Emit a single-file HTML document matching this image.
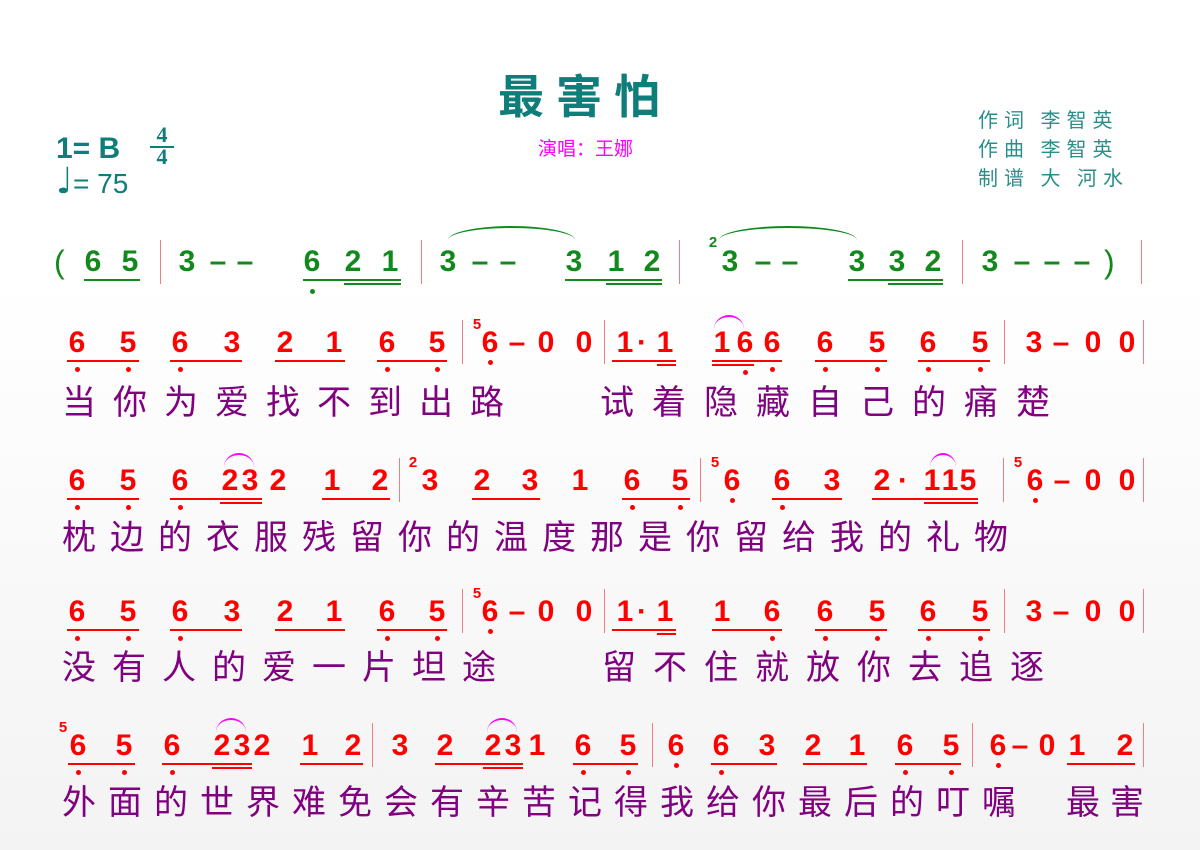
<!DOCTYPE html>
<html><head><meta charset="utf-8"><style>
body{margin:0;width:1200px;height:850px;overflow:hidden;background:linear-gradient(#fff 0,#fff 280px,#f3f3f3 850px);position:relative;font-family:"Liberation Sans","Noto Sans CJK SC",sans-serif}
i{position:absolute;font-style:normal;width:30px;margin-left:-15px;text-align:center;font:bold 30px/26px "Liberation Sans",sans-serif}
b{position:absolute;height:2px;background:currentColor}
u{position:absolute;width:5px;height:5px;border-radius:50%;background:currentColor;margin-left:-2px}
s{position:absolute;width:1px;height:44px;background:#f08080}
em{position:absolute;font-style:normal;font:bold 15px/14px "Liberation Sans";width:12px;margin-left:-6px;text-align:center}
.g{color:#12891c}.r{color:#f00}
.ly{position:absolute;color:#800080;font:34px/38px "Noto Sans CJK SC",sans-serif;white-space:nowrap}
.arc{position:absolute;border-top:2px solid;border-radius:50%/100% 100% 0 0;height:12px}
</style></head><body>
<div style="position:absolute;left:498px;top:66px;color:#0f7d7a;font:bold 46px/56px 'Noto Sans CJK SC',sans-serif;letter-spacing:12px">最害怕</div>
<div style="position:absolute;left:538px;top:136px;color:#f0f;font:19px/24px 'Noto Sans CJK SC',sans-serif">演唱：王娜</div>
<div style="position:absolute;left:978px;top:104px;color:#2a8f8a;font:20px/29px 'Noto Sans CJK SC',sans-serif;letter-spacing:6px">作词 李智英<br>作曲 李智英<br>制谱 大 河水</div>
<div style="position:absolute;left:56px;top:134px;color:#0f7d7a;font:bold 30px/30px 'Liberation Sans',sans-serif">1= B</div>
<div style="position:absolute;left:150px;top:124px;color:#0f7d7a;font:bold 22px/22px 'Liberation Serif',serif;text-align:center;width:24px">4<br>4</div>
<div style="position:absolute;left:150px;top:146px;width:24px;height:2px;background:#0f7d7a"></div>
<div style="position:absolute;left:56px;top:166px;color:#0f7d7a;font:28px/32px 'Liberation Sans',sans-serif"><span style="font-size:36px;font-family:'DejaVu Sans'">&#9833;</span>= 75</div>

<div class="g">
<div style="position:absolute;left:54px;top:244px;font:32px/36px 'Liberation Sans';">(</div>
<i style="left:93px;top:249px">6</i><i style="left:130px;top:249px">5</i><b style="left:84px;top:279px;width:56px"></b>
<s style="left:160px;top:240px"></s>
<i style="left:187px;top:249px">3</i><i style="left:218px;top:249px">–</i><i style="left:245px;top:249px">–</i>
<i style="left:312px;top:249px">6</i><i style="left:353px;top:249px">2</i><i style="left:390px;top:249px">1</i>
<b style="left:303px;top:279px;width:98px"></b><b style="left:344px;top:283px;width:57px"></b><u style="left:312px;top:289px"></u>
<s style="left:421px;top:240px"></s>
<div class="arc" style="left:448px;top:226px;width:127px"></div>
<i style="left:448px;top:249px">3</i><i style="left:480px;top:249px">–</i><i style="left:508px;top:249px">–</i>
<i style="left:574px;top:249px">3</i><i style="left:616px;top:249px">1</i><i style="left:652px;top:249px">2</i>
<b style="left:565px;top:279px;width:97px"></b><b style="left:606px;top:283px;width:56px"></b>
<s style="left:679px;top:240px"></s>
<em style="left:713px;top:236px">2</em>
<div class="arc" style="left:719px;top:226px;width:138px"></div>
<i style="left:730px;top:249px">3</i><i style="left:763px;top:249px">–</i><i style="left:790px;top:249px">–</i>
<i style="left:857px;top:249px">3</i><i style="left:897px;top:249px">3</i><i style="left:933px;top:249px">2</i>
<b style="left:848px;top:279px;width:95px"></b><b style="left:888px;top:283px;width:55px"></b>
<s style="left:962px;top:240px"></s>
<i style="left:990px;top:249px">3</i><i style="left:1022px;top:249px">–</i><i style="left:1052px;top:249px">–</i><i style="left:1082px;top:249px">–</i>
<div style="position:absolute;left:1104px;top:244px;font:32px/36px 'Liberation Sans';">)</div>
<s style="left:1141px;top:240px"></s>
</div>

<div class="r">
<i style="left:77px;top:330px">6</i><i style="left:128px;top:330px">5</i><b style="left:67px;top:360px;width:72px"></b><u style="left:77px;top:367px"></u><u style="left:128px;top:367px"></u>
<i style="left:180px;top:330px">6</i><i style="left:232px;top:330px">3</i><b style="left:170px;top:360px;width:72px"></b><u style="left:180px;top:367px"></u>
<i style="left:285px;top:330px">2</i><i style="left:334px;top:330px">1</i><b style="left:275px;top:360px;width:70px"></b>
<i style="left:387px;top:330px">6</i><i style="left:437px;top:330px">5</i><b style="left:377px;top:360px;width:70px"></b><u style="left:387px;top:367px"></u><u style="left:437px;top:367px"></u>
<s style="left:462px;top:320px"></s>
<em style="left:477px;top:318px">5</em><i style="left:490px;top:330px">6</i><u style="left:490px;top:360px"></u><i style="left:517px;top:330px">–</i><i style="left:546px;top:330px">0</i><i style="left:584px;top:330px">0</i>
<s style="left:604px;top:320px"></s>
<i style="left:625px;top:330px">1</i><i style="left:642px;top:330px">·</i><i style="left:665px;top:330px">1</i><b style="left:612px;top:360px;width:64px"></b><b style="left:657px;top:364px;width:19px"></b>
<div class="arc" style="left:714px;top:315px;width:30px;border-color:#f0f"></div>
<i style="left:722px;top:330px">1</i><i style="left:745px;top:330px">6</i><i style="left:772px;top:330px">6</i><b style="left:712px;top:360px;width:70px"></b><b style="left:712px;top:364px;width:42px"></b><u style="left:745px;top:370px"></u><u style="left:772px;top:367px"></u>
<i style="left:825px;top:330px">6</i><i style="left:877px;top:330px">5</i><b style="left:815px;top:360px;width:72px"></b><u style="left:825px;top:367px"></u><u style="left:877px;top:367px"></u>
<i style="left:928px;top:330px">6</i><i style="left:980px;top:330px">5</i><b style="left:918px;top:360px;width:72px"></b><u style="left:928px;top:367px"></u><u style="left:980px;top:367px"></u>
<s style="left:1004px;top:320px"></s>
<i style="left:1034px;top:330px">3</i><i style="left:1061px;top:330px">–</i><i style="left:1093px;top:330px">0</i><i style="left:1127px;top:330px">0</i>
<s style="left:1143px;top:320px"></s>
</div>
<div class="ly" style="left:62px;top:381px;letter-spacing:17px">当你为爱找不到出路</div>
<div class="ly" style="left:600px;top:381px;letter-spacing:18px">试着隐藏自己的痛楚</div>

<div class="r">
<i style="left:77px;top:468px">6</i><i style="left:128px;top:468px">5</i><b style="left:67px;top:498px;width:72px"></b><u style="left:77px;top:505px"></u><u style="left:128px;top:505px"></u>
<i style="left:180px;top:468px">6</i><i style="left:230px;top:468px">2</i><i style="left:250px;top:468px">3</i><i style="left:278px;top:468px">2</i>
<div class="arc" style="left:224px;top:453px;width:30px;border-color:#f0f"></div>
<b style="left:170px;top:498px;width:92px"></b><b style="left:220px;top:502px;width:42px"></b><u style="left:180px;top:505px"></u>
<i style="left:332px;top:468px">1</i><i style="left:380px;top:468px">2</i><b style="left:322px;top:498px;width:68px"></b>
<s style="left:399px;top:458px"></s>
<em style="left:413px;top:456px">2</em><i style="left:430px;top:468px">3</i>
<i style="left:482px;top:468px">2</i><i style="left:530px;top:468px">3</i><b style="left:472px;top:498px;width:68px"></b>
<i style="left:580px;top:468px">1</i>
<i style="left:632px;top:468px">6</i><i style="left:680px;top:468px">5</i><b style="left:622px;top:498px;width:68px"></b><u style="left:632px;top:505px"></u><u style="left:680px;top:505px"></u>
<s style="left:700px;top:458px"></s>
<em style="left:715px;top:456px">5</em><i style="left:732px;top:468px">6</i><u style="left:732px;top:498px"></u>
<i style="left:782px;top:468px">6</i><i style="left:832px;top:468px">3</i><b style="left:772px;top:498px;width:70px"></b><u style="left:782px;top:505px"></u>
<i style="left:882px;top:468px">2</i><i style="left:903px;top:468px">·</i><i style="left:932px;top:468px">1</i><i style="left:950px;top:468px">1</i><i style="left:968px;top:468px">5</i>
<div class="arc" style="left:930px;top:453px;width:26px;border-color:#f0f"></div>
<b style="left:872px;top:498px;width:106px"></b><b style="left:924px;top:502px;width:54px"></b>
<s style="left:1003px;top:458px"></s>
<em style="left:1018px;top:456px">5</em><i style="left:1035px;top:468px">6</i><u style="left:1035px;top:498px"></u><i style="left:1062px;top:468px">–</i><i style="left:1093px;top:468px">0</i><i style="left:1127px;top:468px">0</i>
<s style="left:1143px;top:458px"></s>
</div>
<div class="ly" style="left:62px;top:516px;letter-spacing:14px">枕边的衣服残留你的温度那是你留给我的礼物</div>

<div class="r">
<i style="left:77px;top:599px">6</i><i style="left:128px;top:599px">5</i><b style="left:67px;top:629px;width:72px"></b><u style="left:77px;top:636px"></u><u style="left:128px;top:636px"></u>
<i style="left:180px;top:599px">6</i><i style="left:232px;top:599px">3</i><b style="left:170px;top:629px;width:72px"></b><u style="left:180px;top:636px"></u>
<i style="left:285px;top:599px">2</i><i style="left:334px;top:599px">1</i><b style="left:275px;top:629px;width:70px"></b>
<i style="left:387px;top:599px">6</i><i style="left:437px;top:599px">5</i><b style="left:377px;top:629px;width:70px"></b><u style="left:387px;top:636px"></u><u style="left:437px;top:636px"></u>
<s style="left:462px;top:589px"></s>
<em style="left:477px;top:587px">5</em><i style="left:490px;top:599px">6</i><u style="left:490px;top:629px"></u><i style="left:517px;top:599px">–</i><i style="left:546px;top:599px">0</i><i style="left:584px;top:599px">0</i>
<s style="left:604px;top:589px"></s>
<i style="left:625px;top:599px">1</i><i style="left:642px;top:599px">·</i><i style="left:665px;top:599px">1</i><b style="left:612px;top:629px;width:64px"></b><b style="left:657px;top:633px;width:19px"></b>
<i style="left:722px;top:599px">1</i><i style="left:772px;top:599px">6</i><b style="left:712px;top:629px;width:70px"></b><u style="left:772px;top:636px"></u>
<i style="left:825px;top:599px">6</i><i style="left:877px;top:599px">5</i><b style="left:815px;top:629px;width:72px"></b><u style="left:825px;top:636px"></u><u style="left:877px;top:636px"></u>
<i style="left:928px;top:599px">6</i><i style="left:980px;top:599px">5</i><b style="left:918px;top:629px;width:72px"></b><u style="left:928px;top:636px"></u><u style="left:980px;top:636px"></u>
<s style="left:1004px;top:589px"></s>
<i style="left:1034px;top:599px">3</i><i style="left:1061px;top:599px">–</i><i style="left:1093px;top:599px">0</i><i style="left:1127px;top:599px">0</i>
<s style="left:1143px;top:589px"></s>
</div>
<div class="ly" style="left:62px;top:646px;letter-spacing:16px">没有人的爱一片坦途</div>
<div class="ly" style="left:602px;top:646px;letter-spacing:17px">留不住就放你去追逐</div>

<div class="r">
<em style="left:63px;top:721px">5</em><i style="left:78px;top:733px">6</i><i style="left:124px;top:733px">5</i><b style="left:68px;top:763px;width:67px"></b><u style="left:78px;top:770px"></u><u style="left:124px;top:770px"></u>
<i style="left:172px;top:733px">6</i><i style="left:222px;top:733px">2</i><i style="left:242px;top:733px">3</i><i style="left:262px;top:733px">2</i>
<div class="arc" style="left:216px;top:718px;width:30px;border-color:#f0f"></div>
<b style="left:162px;top:763px;width:90px"></b><b style="left:212px;top:767px;width:40px"></b><u style="left:172px;top:770px"></u>
<i style="left:310px;top:733px">1</i><i style="left:353px;top:733px">2</i><b style="left:300px;top:763px;width:63px"></b>
<s style="left:372px;top:723px"></s>
<i style="left:400px;top:733px">3</i><i style="left:445px;top:733px">2</i><i style="left:493px;top:733px">2</i><i style="left:513px;top:733px">3</i><i style="left:537px;top:733px">1</i>
<div class="arc" style="left:487px;top:718px;width:30px;border-color:#f0f"></div>
<b style="left:435px;top:763px;width:88px"></b><b style="left:483px;top:767px;width:40px"></b>
<i style="left:583px;top:733px">6</i><i style="left:628px;top:733px">5</i><b style="left:573px;top:763px;width:65px"></b><u style="left:583px;top:770px"></u><u style="left:628px;top:770px"></u>
<s style="left:652px;top:723px"></s>
<i style="left:676px;top:733px">6</i><u style="left:676px;top:763px"></u>
<i style="left:721px;top:733px">6</i><i style="left:767px;top:733px">3</i><b style="left:711px;top:763px;width:66px"></b><u style="left:721px;top:770px"></u>
<i style="left:813px;top:733px">2</i><i style="left:857px;top:733px">1</i><b style="left:803px;top:763px;width:64px"></b>
<i style="left:905px;top:733px">6</i><i style="left:951px;top:733px">5</i><b style="left:895px;top:763px;width:66px"></b><u style="left:905px;top:770px"></u><u style="left:951px;top:770px"></u>
<s style="left:972px;top:723px"></s>
<i style="left:998px;top:733px">6</i><u style="left:998px;top:763px"></u><i style="left:1020px;top:733px">–</i><i style="left:1047px;top:733px">0</i><i style="left:1077px;top:733px">1</i><i style="left:1125px;top:733px">2</i><b style="left:1067px;top:763px;width:68px"></b>
<s style="left:1143px;top:723px"></s>
</div>
<div class="ly" style="left:62px;top:781px;letter-spacing:12px">外面的世界难免会有辛苦记得我给你最后的叮嘱</div>
<div class="ly" style="left:1066px;top:781px;letter-spacing:10px">最害</div>
</body></html>
